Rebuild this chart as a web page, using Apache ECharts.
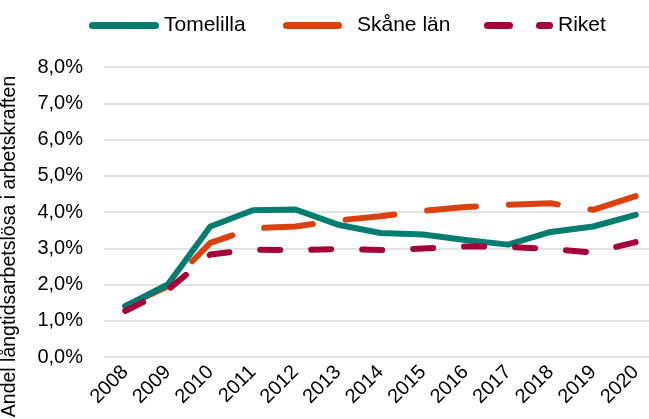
<!DOCTYPE html>
<html>
<head>
    <meta charset="utf-8"/>
    <title>Långtidsarbetslöshet</title>
    <script src="https://cdn.jsdelivr.net/npm/echarts@6/dist/echarts.min.js"></script>
</head>
<body style="margin:0">
<div id="main" style="width: 649px; height: 419px;"></div>
<script type="text/javascript">
    var years = ['2008', '2009', '2010', '2011', '2012', '2013', '2014', '2015', '2016', '2017', '2018', '2019', '2020'];
    var tomelilla = [1.4, 2.0, 3.6, 4.05, 4.07, 3.65, 3.42, 3.38, 3.23, 3.1, 3.45, 3.6, 3.92];
    var skane = [1.4, 1.95, 3.15, 3.55, 3.6, 3.77, 3.88, 4.03, 4.14, 4.2, 4.24, 4.06, 4.44];
    var riket = [1.27, 1.85, 2.83, 2.96, 2.95, 2.98, 2.95, 2.99, 3.05, 3.04, 2.98, 2.88, 3.17];

    var teal = '#007D6E', orange = '#D9410F', crimson = '#A6003A';
    var font = 'Liberation Sans, Arial, sans-serif';

    var chart = echarts.init(document.getElementById('main'));

    // en legend per serie, så att varje symbol kan få egen bredd och plats
    function legendItem(name, left, width, icon) {
        return {
            left: left,
            top: 10,
            itemWidth: width,
            itemHeight: 7,
            icon: icon,
            data: [name],
            textStyle: {fontFamily: font, fontSize: 21, color: '#000'}
        };
    }

    var option = {
        backgroundColor: '#fff',
        animation: false,
        legend: [
            legendItem('Tomelilla', 84, 70, 'path://M3.5,0 L66.5,0 A3.5,3.5 0 0 1 66.5,7 L3.5,7 A3.5,3.5 0 0 1 3.5,0 Z'),
            legendItem('Skåne län', 278, 69, 'path://M3.5,0 L55.5,0 A3.5,3.5 0 0 1 55.5,7 L3.5,7 A3.5,3.5 0 0 1 3.5,0 Z M69,0 L69,7 Z'),
            legendItem('Riket', 479, 69, 'path://M3.5,0 L25.5,0 A3.5,3.5 0 0 1 25.5,7 L3.5,7 A3.5,3.5 0 0 1 3.5,0 Z M55.5,0 L65.5,0 A3.5,3.5 0 0 1 65.5,7 L55.5,7 A3.5,3.5 0 0 1 55.5,0 Z')
        ],
        grid: {
            left: 104,
            right: -8,
            top: 67,
            bottom: 62,
            outerBoundsMode: 'none'
        },
        xAxis: {
            type: 'category',
            data: years,
            boundaryGap: true,
            axisLine: {show: false},
            axisTick: {show: false},
            axisLabel: {
                rotate: 45,
                fontFamily: font,
                fontSize: 20,
                color: '#000',
                margin: 12,
                interval: 0
            }
        },
        yAxis: {
            type: 'value',
            min: 0,
            max: 8,
            interval: 1,
            name: 'Andel långtidsarbetslösa i arbetskraften',
            nameLocation: 'middle',
            nameRotate: 90,
            nameGap: 84,
            nameTextStyle: {
                fontFamily: font,
                fontSize: 19.5,
                color: '#000',
                padding: [0, 69, 0, 0]
            },
            axisLabel: {
                fontFamily: font,
                fontSize: 20,
                color: '#000',
                margin: 21,
                formatter: function (v) {
                    return v.toFixed(1).replace('.', ',') + '%';
                }
            },
            splitLine: {lineStyle: {color: '#d9d9d9', width: 1.5}}
        },
        series: [
            {
                name: 'Tomelilla',
                type: 'line',
                data: tomelilla,
                symbol: 'none',
                color: teal,
                lineStyle: {width: 6, color: teal, cap: 'round', join: 'round'},
                z: 3
            },
            {
                name: 'Skåne län',
                type: 'line',
                data: skane,
                symbol: 'none',
                color: orange,
                lineStyle: {width: 6, color: orange, type: [49, 33], cap: 'round', join: 'round'},
                z: 2
            },
            {
                name: 'Riket',
                type: 'line',
                data: riket,
                symbol: 'none',
                color: crimson,
                lineStyle: {width: 6, color: crimson, type: [20, 31], cap: 'round', join: 'round'},
                z: 4
            }
        ]
    };

    chart.setOption(option);
</script>
</body>
</html>
